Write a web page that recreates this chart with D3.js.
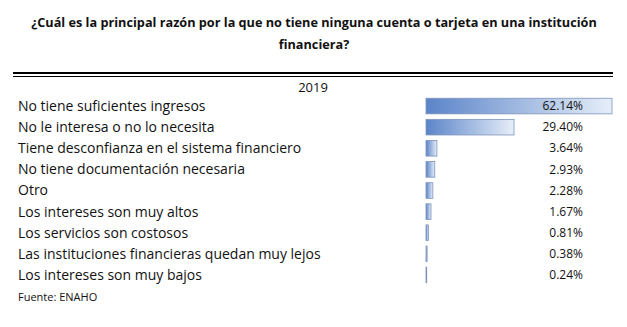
<!DOCTYPE html>
<html><head><meta charset="utf-8">
<script src="https://cdn.jsdelivr.net/npm/d3@7"></script>
<style>body{margin:0;background:#fff;} svg{display:block;}</style>
</head><body>
<script>
const titleLines = ["¿Cuál es la principal razón por la que no tiene ninguna cuenta o tarjeta en una institución", "financiera?"];
const yearLabel = "2019";
const categories = ["No tiene suficientes ingresos","No le interesa o no lo necesita","Tiene desconfianza en el sistema financiero","No tiene documentación necesaria","Otro","Los intereses son muy altos","Los servicios son costosos","Las instituciones financieras quedan muy lejos","Los intereses son muy bajos"];
const values = [62.14, 29.40, 3.64, 2.93, 2.28, 1.67, 0.81, 0.38, 0.24];
const sourceText = "Fuente: ENAHO";

const W = 627, H = 327;
const svg = d3.select("body").append("svg").attr("width", W).attr("height", H);
const font = "'Open Sans', 'Noto Sans', sans-serif";

const defs = svg.append("defs");
const grad = defs.append("linearGradient").attr("id","g").attr("x1","0").attr("x2","1").attr("y1","0").attr("y2","0");
grad.append("stop").attr("offset","0%").attr("stop-color","#5b84c8");
grad.append("stop").attr("offset","100%").attr("stop-color","#e6eef9");

svg.selectAll("text.title").data(titleLines).enter().append("text")
  .attr("x", 314).attr("y", (d,i)=>27 + i*22)
  .attr("text-anchor","middle").attr("font-family",font).attr("font-weight","bold")
  .attr("font-size", 12.7).attr("fill","#111").text(d=>d);

svg.append("line").attr("x1",13).attr("x2",613).attr("y1",73).attr("y2",73).attr("stroke","#000").attr("stroke-width",2);
svg.append("line").attr("x1",13).attr("x2",613).attr("y1",76.5).attr("y2",76.5).attr("stroke","#000").attr("stroke-width",1);

svg.append("text").attr("x",313).attr("y",92).attr("text-anchor","middle").attr("font-family",font)
  .attr("font-size",13).attr("fill","#111").text(yearLabel);

const x = d3.scaleLinear().domain([0, 62.14]).range([426, 612]);
const y = d3.scaleBand().domain(categories).range([95.5, 285.5]).paddingInner(0.26).paddingOuter(0.13);

svg.selectAll("rect.bar").data(values).enter().append("rect")
  .attr("x", x(0)).attr("y", (d,i)=>y(categories[i]))
  .attr("width", d=>x(d)-x(0)).attr("height", y.bandwidth())
  .attr("fill","url(#g)").attr("stroke","#7f93b9").attr("stroke-width",0.8);

svg.selectAll("text.cat").data(categories).enter().append("text")
  .attr("x", 18).attr("y", d=>y(d)+y.bandwidth()/2).attr("dy","0.35em")
  .attr("font-family",font).attr("font-size",14).attr("fill","#111").text(d=>d);

svg.selectAll("text.val").data(values).enter().append("text")
  .attr("x", 583).attr("y", (d,i)=>y(categories[i])+y.bandwidth()/2).attr("dy","0.35em")
  .attr("text-anchor","end").attr("font-family",font).attr("font-size",12).attr("fill","#111")
  .text(d=>d3.format(".2f")(d)+"%");

svg.append("text").attr("x",18).attr("y",301).attr("font-family",font).attr("font-size",11)
  .attr("fill","#111").text(sourceText);
</script>
</body></html>
